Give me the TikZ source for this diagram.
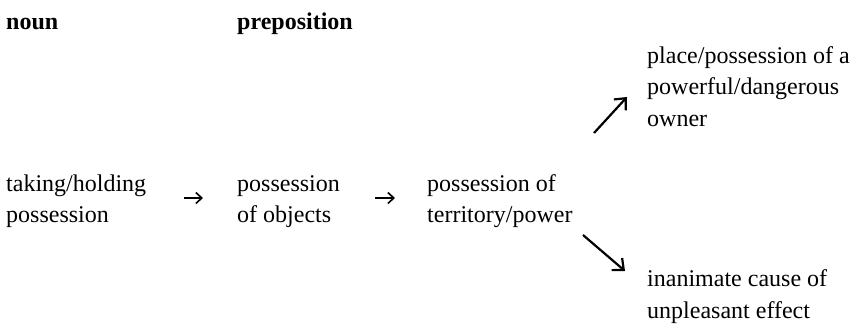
\documentclass[tikz,border=0pt]{standalone}
\usepackage{fontspec}
\setmainfont{Liberation Serif}
\usetikzlibrary{arrows.meta}
\begin{document}
\begin{tikzpicture}[x=1pt,y=-1pt,
  label/.style={anchor=base west,inner sep=0pt,align=left,
    font=\fontsize{24}{31.5}\selectfont},
  head/.style={label,font=\fontsize{24}{31.5}\selectfont\bfseries},
  smallarr/.style={-{Straight Barb[length=6pt,width=11pt,line width=1.6pt]},line width=1.6pt},
  bigarr/.style={-{Straight Barb[length=9pt,width=16pt,line width=2.2pt]},line width=2.2pt}]
  \useasboundingbox (0,0) rectangle (851,324);

  % column headings
  \node[head] (hnoun) at (6,29) {noun};
  \node[head] (hprep) at (237,29) {preposition};

  % chain of senses (placed by the baseline of their last line)
  \node[label] (take)  at (6,222.5)   {taking/holding\\possession};
  \node[label] (obj)   at (237,222.5) {possession\\of objects};
  \node[label] (terr)  at (427,222.5) {possession of\\territory/power};
  \node[label] (owner) at (647,126)   {place/possession of a\\powerful/dangerous\\owner};
  \node[label] (cause) at (647,318)   {inanimate cause of\\unpleasant effect};

  % ends of the diagonal arrows
  \coordinate (upA) at (594,133);
  \coordinate (upB) at (627,97);
  \coordinate (dnA) at (583,235);
  \coordinate (dnB) at (625,271);

  \draw[smallarr,shorten <=38pt,shorten >=34pt]
    ([yshift=24.5pt]take.base east) -- ([yshift=24.5pt]obj.base west);
  \draw[smallarr,shorten <=35pt,shorten >=32pt]
    ([yshift=24.5pt]obj.base east) -- ([yshift=24.5pt]terr.base west);
  \draw[bigarr] (upA) -- (upB);
  \draw[bigarr] (dnA) -- (dnB);
\end{tikzpicture}
\end{document}
